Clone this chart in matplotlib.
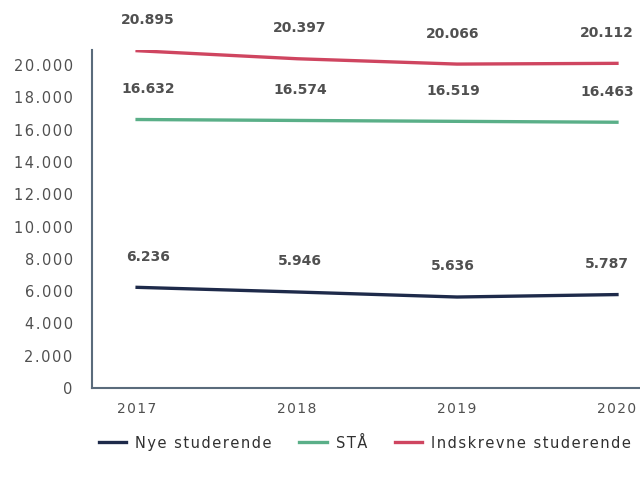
import numpy as np
import matplotlib.pyplot as plt

years = ["2017", "2018", "2019", "2020"]
nye = [6236, 5946, 5636, 5787]
staa = [16632, 16574, 16519, 16463]
indskrevne = [20895, 20397, 20066, 20112]

HS = "\u200a"  # hair space, gives the wide letter spacing of the original


def spaced(s):
    return HS.join(s)


def fmt(v):
    return f"{v:,}".replace(",", ".")


fig = plt.figure(figsize=(6.4, 4.79), dpi=100)
ax = fig.add_axes([0.144, 0.19, 0.86, 0.706])

x = np.arange(len(years))
label_dx = [8, 2, -3, -7]  # labels sit slightly off the points in the original
series = [
    (nye, "#1e2a4a", "Nye studerende"),
    (staa, "#5aaf88", "STÅ"),
    (indskrevne, "#cf4560", "Indskrevne studerende"),
]
for vals, col, lab in series:
    ax.plot(x, vals, color=col, linewidth=2.4, label=spaced(lab))
    for xi, v in zip(x, vals):
        ax.annotate(fmt(v), (xi, v), xytext=(label_dx[xi], 22), textcoords="offset points",
                    ha="center", va="center", fontsize=10, fontweight="bold",
                    color="#505050")

ax.set_xlim(-0.281, 3.16)
ax.set_ylim(0, 20950)
yt = np.arange(0, 20001, 2000)
ax.set_yticks(yt)
ax.set_yticklabels([spaced(fmt(int(v))) for v in yt])
ax.set_xticks(x)
ax.set_xticklabels([spaced(y) for y in years])
ax.tick_params(length=0, labelcolor="#505050")
ax.tick_params(axis="y", pad=14, labelsize=10.5)
ax.tick_params(axis="x", pad=10, labelsize=10)
for s in ["top", "right"]:
    ax.spines[s].set_visible(False)
for s in ["left", "bottom"]:
    ax.spines[s].set_color("#5a6b7b")
    ax.spines[s].set_linewidth(1.5)

fig.legend(loc="center", bbox_to_anchor=(0.57, 0.075), ncol=3, frameon=False,
           fontsize=10.5, handlelength=1.9, handletextpad=0.6, columnspacing=1.9,
           labelcolor="#303030")
fig.savefig("out.png", dpi=100)
